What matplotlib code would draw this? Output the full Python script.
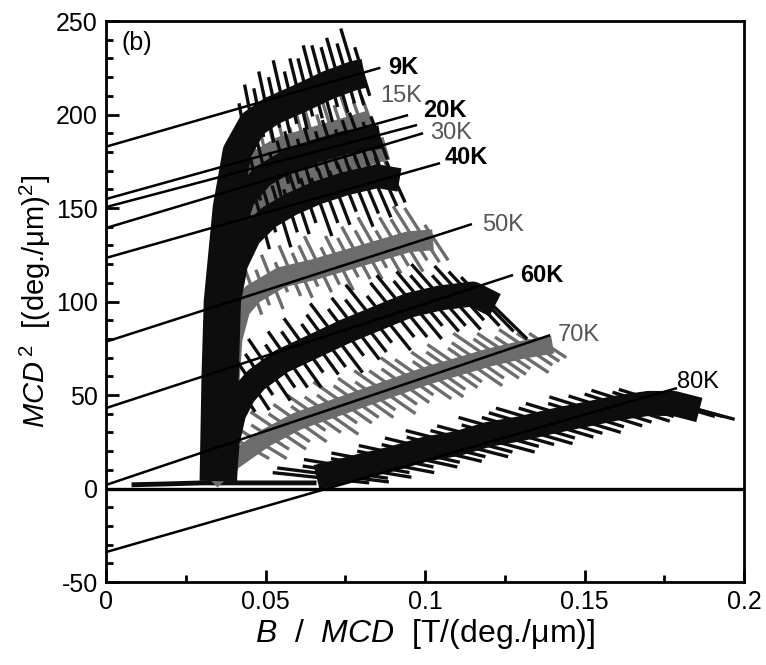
import numpy as np
import matplotlib
matplotlib.use("Agg")
import matplotlib.pyplot as plt
from matplotlib.collections import LineCollection

plt.rcParams['font.family'] = ['Liberation Sans', 'DejaVu Sans']
plt.rcParams['mathtext.fontset'] = 'custom'
plt.rcParams['mathtext.rm'] = 'Liberation Sans'
plt.rcParams['mathtext.it'] = 'Liberation Sans:italic'
plt.rcParams['mathtext.bf'] = 'Liberation Sans:bold'

# ---------------- data ----------------
temps = ['9K', '15K', '20K', '30K', '40K', '50K', '60K', '70K', '80K']

# centre lines of the noisy Arrott curves (B/MCD, MCD^2)
x9 = [0.0339, 0.0345, 0.0352, 0.0380, 0.0411, 0.046, 0.052, 0.060, 0.070, 0.078, 0.081]
y9 = [4, 60, 100, 150, 180, 195, 202, 208, 216, 221, 222]
x15 = [0.0350, 0.0355, 0.0362, 0.0385, 0.0420, 0.048, 0.055, 0.065, 0.075, 0.083]
y15 = [4, 60, 100, 140, 162, 175, 182, 187, 192, 196]
x20 = [0.0358, 0.0363, 0.0370, 0.0392, 0.0430, 0.049, 0.056, 0.065, 0.075, 0.086]
y20 = [4, 60, 100, 135, 155, 167, 174, 180, 185, 188]
x30 = [0.0366, 0.0371, 0.0378, 0.0400, 0.0440, 0.050, 0.057, 0.066, 0.076, 0.088]
y30 = [4, 60, 100, 128, 146, 156, 164, 170, 176, 182]
x40 = [0.0374, 0.0379, 0.0386, 0.0408, 0.0450, 0.051, 0.058, 0.066, 0.075, 0.085, 0.092]
y40 = [4, 60, 100, 120, 135, 145, 152, 158, 163, 167, 165]
x50 = [0.0378, 0.0383, 0.0395, 0.0420, 0.0460, 0.050, 0.055, 0.065, 0.075, 0.085, 0.095, 0.1025]
y50 = [4, 50, 80, 96, 104, 108, 113, 117, 122, 127, 132, 133]
x60 = [0.0370, 0.0380, 0.0400, 0.0430, 0.0470, 0.055, 0.065, 0.075, 0.085, 0.095, 0.105, 0.115, 0.122]
y60 = [4, 25, 40, 50, 58, 68, 76, 84, 91, 98, 102, 104, 98]
x70 = [0.033, 0.036, 0.040, 0.045, 0.050, 0.060, 0.070, 0.080, 0.090, 0.100, 0.110, 0.120, 0.130, 0.140]
y70 = [4, 9, 15, 21, 27, 36, 42, 48, 54, 60, 65, 70, 74, 77]
x80 = [0.066, 0.072, 0.080, 0.090, 0.100, 0.110, 0.120, 0.130, 0.140, 0.150, 0.160, 0.170, 0.178, 0.186]
y80 = [6, 8.5, 12, 16, 21, 24, 29, 32, 36, 39.5, 43, 45.5, 45.5, 42]

# low-field tail common to the curves
xtail = [0.008, 0.020, 0.030, 0.045, 0.066]
ytail = [2, 2.5, 3, 3, 3]

# noise spikes: base point, extent above and below (MCD^2 units)
sx9 = [0.043, 0.0455, 0.048, 0.0505, 0.053, 0.0555, 0.058, 0.0605, 0.063, 0.0655, 0.068, 0.0705, 0.073, 0.0755, 0.078, 0.0805]
sy9 = [194, 198, 200, 202, 204, 206, 208, 210, 211, 213, 215, 217, 218, 220, 221, 222]
up9 = [12, 18, 14, 21, 16, 23, 15, 20, 19, 24, 22, 19, 23, 18, 25, 14]
dn9 = [10, 15, 12, 17, 11, 16, 13, 18, 12, 15, 19, 13, 17, 14, 16, 12]

sx15 = [0.047, 0.050, 0.053, 0.056, 0.059, 0.062, 0.065, 0.068, 0.071, 0.074, 0.077, 0.080, 0.083]
sy15 = [177, 179, 181, 183, 184, 186, 187, 189, 190, 192, 193, 195, 196]
up15 = [10, 17, 12, 19, 9, 15, 20, 11, 17, 13, 19, 12, 14]
dn15 = [9, 14, 11, 8, 15, 10, 13, 9, 14, 11, 8, 13, 10]

sx20 = [0.0465, 0.0495, 0.0525, 0.0555, 0.0585, 0.0615, 0.0645, 0.0675, 0.0705, 0.0735, 0.0765, 0.0795, 0.0825, 0.0855]
sy20 = [168, 171, 172, 174, 176, 178, 180, 181, 183, 184, 185, 186, 187, 188]
up20 = [9, 14, 8, 12, 15, 9, 13, 10, 14, 8, 12, 15, 9, 11]
dn20 = [14, 9, 16, 11, 13, 17, 10, 15, 12, 16, 11, 14, 17, 12]

sx30 = [0.047, 0.050, 0.053, 0.056, 0.059, 0.062, 0.065, 0.068, 0.071, 0.074, 0.077, 0.080, 0.083, 0.086]
sy30 = [158, 160, 162, 164, 166, 168, 170, 171, 173, 175, 177, 178, 180, 181]
up30 = [12, 8, 14, 10, 13, 9, 15, 11, 8, 13, 10, 14, 9, 12]
dn30 = [10, 15, 12, 9, 14, 11, 16, 10, 13, 15, 9, 12, 14, 11]

sx40 = [0.045, 0.048, 0.051, 0.054, 0.057, 0.060, 0.063, 0.066, 0.069, 0.072, 0.075, 0.078, 0.081, 0.084, 0.087, 0.090]
sy40 = [145, 148, 150, 151, 153, 155, 156, 158, 159, 161, 163, 164, 165, 166, 167, 167]
up40 = [8, 12, 9, 11, 7, 13, 10, 8, 12, 9, 11, 8, 12, 9, 10, 8]
dn40 = [14, 20, 13, 22, 16, 19, 14, 23, 17, 20, 15, 24, 18, 21, 16, 14]

sx50 = [0.043, 0.046, 0.049, 0.052, 0.055, 0.058, 0.061, 0.064, 0.067, 0.070, 0.073, 0.076, 0.079, 0.082,
        0.085, 0.088, 0.091, 0.094, 0.097, 0.100, 0.103]
sy50 = [104, 106, 108, 111, 113, 115, 116, 117, 118, 120, 121, 123, 124, 126, 127, 128, 130, 131, 132, 133, 133]
up50 = [7, 12, 9, 14, 8, 15, 10, 13, 17, 9, 14, 11, 16, 12, 18, 10, 15, 13, 19, 17, 8]
dn50 = [9, 13, 10, 15, 8, 12, 14, 9, 13, 11, 15, 10, 12, 14, 9, 13, 11, 15, 10, 12, 11]

sx60 = [0.042, 0.045, 0.048, 0.051, 0.054, 0.057, 0.060, 0.063, 0.066, 0.069, 0.072, 0.075, 0.078, 0.081,
        0.084, 0.087, 0.090, 0.093, 0.096, 0.099, 0.102, 0.105, 0.108, 0.111, 0.114, 0.117, 0.120]
sy60 = [53, 58, 61, 64, 67, 69, 72, 74, 77, 79, 81, 84, 86, 88, 90, 92, 95, 97, 99, 100, 101, 102, 103, 104, 104, 103, 100]
up60 = [9, 14, 11, 16, 10, 15, 12, 17, 11, 14, 18, 12, 16, 13, 19, 11, 15, 17, 12, 16, 13, 18, 11, 15, 12, 10, 8]
dn60 = [12, 16, 11, 17, 13, 15, 18, 12, 16, 14, 19, 13, 17, 15, 12, 18, 14, 16, 19, 13, 17, 15, 18, 14, 17, 19, 20]

sx70 = [0.045, 0.048, 0.051, 0.054, 0.057, 0.060, 0.063, 0.066, 0.069, 0.072, 0.075, 0.078, 0.081, 0.084,
        0.087, 0.090, 0.093, 0.096, 0.099, 0.102, 0.105, 0.108, 0.111, 0.114, 0.117, 0.120, 0.123, 0.126,
        0.129, 0.132, 0.135, 0.138]
sy70 = [22, 25, 28, 31, 33, 36, 38, 39, 41, 43, 45, 47, 49, 50, 52, 54, 56, 58, 59, 61, 62, 64, 65, 67,
        68, 70, 71, 72, 73, 75, 76, 77]
up70 = [5, 8, 6, 10, 7, 9, 6, 11, 8, 7, 12, 8, 10, 7, 11, 9, 8, 12, 10, 7, 11, 9, 12, 8, 10, 13, 9, 11, 8, 10, 7, 6]
dn70 = [6, 9, 7, 10, 8, 11, 7, 9, 12, 8, 10, 9, 11, 8, 12, 9, 10, 8, 11, 12, 9, 10, 8, 12, 9, 11, 10, 8, 11, 9, 8, 7]

sx80 = [0.066, 0.070, 0.074, 0.078, 0.082, 0.086, 0.090, 0.094, 0.098, 0.102, 0.106, 0.110, 0.114, 0.118,
        0.122, 0.126, 0.130, 0.134, 0.138, 0.142, 0.146, 0.150, 0.154, 0.158, 0.162, 0.166, 0.170, 0.174,
        0.178, 0.182, 0.186]
sy80 = [6, 7.5, 9, 11, 12.5, 14, 16, 17.5, 19, 21, 22.5, 24, 25.5, 27, 29, 30.5, 32, 33.5, 35, 36.5, 38,
        39.5, 41, 42.5, 44, 45, 45.5, 46, 45, 44, 42]
up80 = [2.5, 3.5, 3, 4.5, 3.5, 5, 4, 5.5, 4.5, 6, 5, 7, 5.5, 6.5, 5, 7.5, 6, 7, 8, 6.5, 7.5, 6, 8, 7, 6.5,
        7.5, 6, 7, 5.5, 6, 4]
dn80 = [3, 4, 3.5, 5, 4, 5.5, 4.5, 6, 5, 6.5, 5.5, 7, 6, 7.5, 6.5, 7, 8, 6.5, 7.5, 7, 8, 6.5, 7.5, 7, 8,
        6.5, 7, 6, 6.5, 5.5, 5]

# linear (Arrott) fits: intercept at B/MCD = 0 and end point near the label
fit_y0 = [182.8, 154.8, 150.5, 139.3, 123.3, 78.5, 43.0, 1.9, -34.0]
fit_x1 = [0.086, 0.0947, 0.0975, 0.0994, 0.1047, 0.1147, 0.1276, 0.1392, 0.179]
fit_y1 = [225.0, 199.7, 194.4, 190.0, 174.0, 141.4, 114.2, 82.0, 53.7]

# label positions
lab_x = [0.0885, 0.0859, 0.0994, 0.1016, 0.1063, 0.1179, 0.1298, 0.1417, 0.179]
lab_y = [225, 210, 202, 190, 177, 141, 114, 82, 57]

xticks = [0, 0.05, 0.1, 0.15, 0.2]
xticklabels = ['0', '0.05', '0.1', '0.15', '0.2']
yticks = [-50, 0, 50, 100, 150, 200, 250]
yticklabels = ['-50', '0', '50', '100', '150', '200', '250']

# ---------------- styling ----------------
BLACK = '#0d0d0d'
GRAY = '#6c6c6c'
colors = [BLACK, GRAY, BLACK, GRAY, BLACK, GRAY, BLACK, GRAY, BLACK]
core_lw = [21, 17, 17, 17, 17, 15, 18, 13, 18]
label_colors = ['#000000', '#555555', '#000000', '#555555', '#000000', '#555555', '#000000', '#555555', '#000000']
label_weights = ['bold', 'normal', 'bold', 'normal', 'bold', 'normal', 'bold', 'normal', 'normal']
# gray curves first, black ones on top
draw_order = [1, 3, 5, 7, 0, 2, 4, 6, 8]

curves = [(x9, y9), (x15, y15), (x20, y20), (x30, y30), (x40, y40),
          (x50, y50), (x60, y60), (x70, y70), (x80, y80)]
spikes = [(sx9, sy9, up9, dn9), (sx15, sy15, up15, dn15), (sx20, sy20, up20, dn20),
          (sx30, sy30, up30, dn30), (sx40, sy40, up40, dn40), (sx50, sy50, up50, dn50),
          (sx60, sy60, up60, dn60), (sx70, sy70, up70, dn70), (sx80, sy80, up80, dn80)]

fig = plt.figure(figsize=(7.66, 6.65), dpi=100)
ax = fig.add_axes([0.1384, 0.1248, 0.8329, 0.8436])
ax.set_xlim(0, 0.2)
ax.set_ylim(-50, 250)

# low-field tail
ax.plot(xtail, ytail, color=BLACK, lw=3.5, solid_capstyle='butt', zorder=2)

for n, i in enumerate(draw_order):
    cx, cy = curves[i]
    z = 2 + n * 0.1
    ax.plot(cx, cy, color=colors[i], lw=core_lw[i], solid_capstyle='butt',
            solid_joinstyle='round', zorder=z)
    sx, sy, up, dn = [np.asarray(a, float) for a in spikes[i]]
    k = 2 * sy / sx  # local direction of MCD noise in (B/MCD, MCD^2)
    segs = [[(bx - u / kk, by + u), (bx + d / kk, by - d)]
            for bx, by, u, d, kk in zip(sx, sy, up, dn, k)]
    ax.add_collection(LineCollection(segs, colors=colors[i], linewidths=2.4,
                                     capstyle='butt', zorder=z + 0.05))

# zero line
ax.axhline(0, color='black', lw=2.4, zorder=4)

# fit lines and labels
for i in range(len(temps)):
    ax.plot([0, fit_x1[i]], [fit_y0[i], fit_y1[i]], color='black', lw=1.8,
            solid_capstyle='butt', zorder=5)
    ax.text(lab_x[i], lab_y[i], temps[i], color=label_colors[i],
            fontweight=label_weights[i], fontsize=17, ha='left', va='center', zorder=6)

ax.text(0.005, 238, '(b)', fontsize=18, ha='left', va='center')

ax.set_xticks(xticks)
ax.set_xticklabels(xticklabels)
ax.set_yticks(yticks)
ax.set_yticklabels(yticklabels)
ax.set_xticks(np.arange(0, 0.2001, 0.025), minor=True)
ax.set_yticks(np.arange(-50, 251, 10), minor=True)
ax.tick_params(which='both', direction='in', top=False, right=False, width=2)
ax.tick_params(which='major', length=9, labelsize=18, pad=6)
ax.tick_params(which='minor', length=5)
for s in ax.spines.values():
    s.set_linewidth(2)

ax.set_xlabel(r'$\mathit{B}$  /  $\mathit{MCD}$  [T/(deg./μm)]', fontsize=23, labelpad=2)
ax.set_ylabel(r'$\mathit{MCD}^{\,2}$  [(deg./μm)$^2$]', fontsize=21, labelpad=2)

fig.savefig('out.png', dpi=100)
